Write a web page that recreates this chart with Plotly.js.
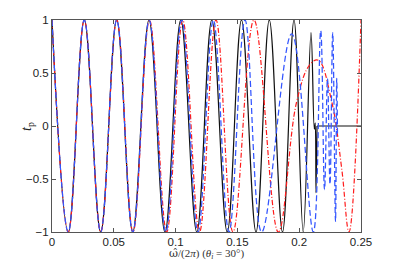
<!DOCTYPE html>
<html>
<head>
<meta charset="utf-8">
<script src="https://cdn.plot.ly/plotly-3.0.1.min.js"></script>
<style>html,body{margin:0;padding:0;background:#fff;}#chart{width:399px;height:262px;}</style>
</head>
<body>
<div id="chart"></div>
<script>
// Values (extrema and a few intermediate points)
var blackX = [0, 0.01319, 0.02613, 0.03940, 0.05235, 0.06529, 0.07848, 0.09142, 0.10421, 0.11715,
              0.12929, 0.14175, 0.15332, 0.16505, 0.17581, 0.18649, 0.19579, 0.20324, 0.20955,
              0.21222, 0.21294, 0.21359, 0.21440];
var blackY = [1, -1, 1, -1, 1, -1, 1, -1, 1, -1,
              1, -1, 1, -1, 1, -1, 1, -1, 0.88,
              -0.03, 0.03, -0.63, 0];
// flat tail of the black curve
var blackTailX = [0.21440, 0.25];
var blackTailY = [0, 0];

var redX = [0, 0.01319, 0.02613, 0.03940, 0.05243, 0.06553, 0.07888, 0.09280, 0.10575, 0.11934,
            0.13269, 0.14644, 0.16343, 0.18309, 0.19798, 0.20874, 0.21545, 0.22629, 0.23438,
            0.24029, 0.25];
var redY = [1, -1, 1, -1, 1, -1, 1, -1, 1, -1,
            1, -1, 1, -1, 0.23, 0.58, 0.62, 0.23, -0.4,
            -1, 1];

var blueX = [0, 0.01319, 0.02613, 0.03940, 0.05235, 0.06537, 0.07864, 0.09207, 0.10494, 0.11812,
             0.13050, 0.14320, 0.15615, 0.16966, 0.19393, 0.21141, 0.21740, 0.22047, 0.22290,
             0.22492, 0.22710, 0.22937, 0.23034, 0.23099];
var blueY = [1, -1, 1, -1, 1, -1, 1, -1, 1, -1,
             1, -1, 1, -1, 0.87, -1, 0.9, -0.6, 0.45,
             -0.55, 0.88, -0.9, 0.45, -0.1];

var xTickVals = [0, 0.05, 0.1, 0.15, 0.2, 0.25];
var xTickText = ['0', '0.05', '0.1', '0.15', '0.2', '0.25'];
var yTickVals = [-1, -0.5, 0, 0.5, 1];
var yTickText = ['\u22121', '\u22120.5', '0', '0.5', '1'];

var xTitle = '<span style="font-family:DejaVu Serif">\u03c9\u0302</span>/(2<i>\u03c0</i>) (<i>\u03b8<sub>i</sub></i> = 30\u00b0)';
var yTitle = '<i>t</i><sub>p</sub>';

var traces = [
  {x: blackX, y: blackY, mode: 'lines', line: {color: '#111', width: 1.2, shape: 'spline', smoothing: 1.1}},
  {x: blackTailX, y: blackTailY, mode: 'lines', line: {color: '#111', width: 1.2}},
  {x: redX, y: redY, mode: 'lines', line: {color: '#ff1a1a', width: 1.2, dash: '5px,2px,1px,2px', shape: 'spline', smoothing: 1.1}},
  {x: blueX, y: blueY, mode: 'lines', line: {color: '#3355ff', width: 1.25, dash: '6px,3px', shape: 'spline', smoothing: 1.1}}
];

var axisCommon = {
  showgrid: false, zeroline: false, showline: true, linecolor: '#555', linewidth: 1,
  mirror: 'ticks', ticks: 'inside', ticklen: 4, tickcolor: '#555', tickwidth: 1,
  tickfont: {family: 'Liberation Sans, Arial, sans-serif', size: 11.5, color: '#222'}
};

var layout = {
  width: 399, height: 262,
  margin: {l: 52, r: 38, t: 20, b: 30},
  paper_bgcolor: '#fff', plot_bgcolor: '#fff',
  showlegend: false,
  font: {family: 'Liberation Sans, Arial, sans-serif', size: 12, color: '#222'},
  xaxis: Object.assign({}, axisCommon, {
    range: [0, 0.25], tickmode: 'array', tickvals: xTickVals, ticktext: xTickText, ticklabelstandoff: -1
  }),
  yaxis: Object.assign({}, axisCommon, {
    range: [-1, 1], tickmode: 'array', tickvals: yTickVals, ticktext: yTickText
  }),
  annotations: [
    {text: xTitle, xref: 'paper', yref: 'paper', x: 0.5, y: -0.104, xanchor: 'center', yanchor: 'middle',
     showarrow: false, font: {family: 'Liberation Serif, DejaVu Serif, serif', size: 11, color: '#333'}},
    {text: yTitle, xref: 'paper', yref: 'paper', x: -0.081, y: 0.5, xanchor: 'center', yanchor: 'middle',
     textangle: -90, showarrow: false, font: {family: 'Liberation Serif, DejaVu Serif, serif', size: 14, color: '#222'}}
  ]
};

Plotly.newPlot('chart', traces, layout, {staticPlot: true, displayModeBar: false});
</script>
</body>
</html>
